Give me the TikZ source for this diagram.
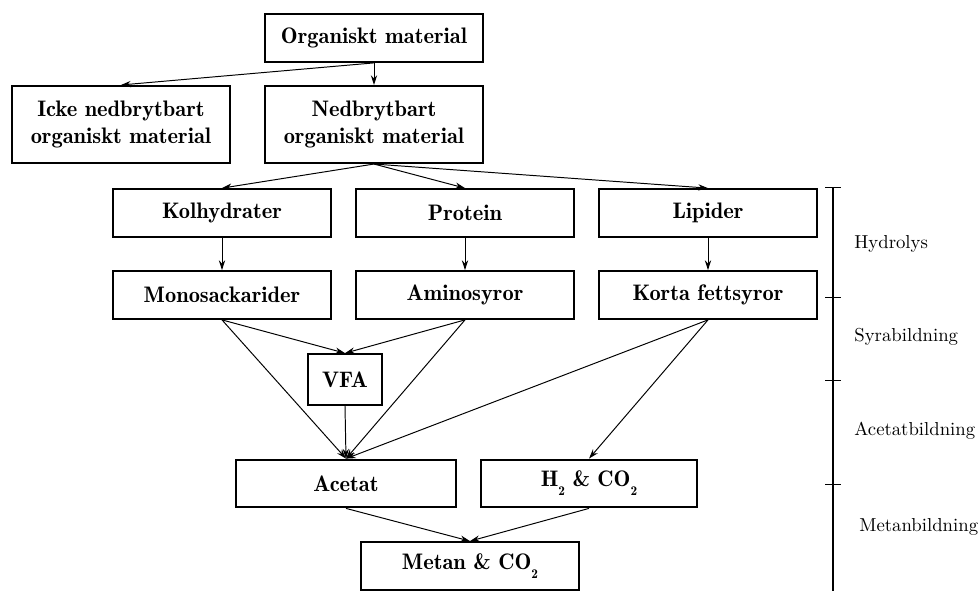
\documentclass[tikz,border=0pt]{standalone}
\usepackage{fontspec}
\usetikzlibrary{positioning,arrows.meta}
\newfontfamily\demifont{Latin Modern Roman Demi}
\newcommand\lowsub[1]{\raisebox{-4.6pt}{\fontsize{6.8}{7}\selectfont #1}}

\tikzset{
  stage/.style={draw, line width=1pt, minimum width=111.5pt, minimum height=24.5pt,
    align=center, inner sep=2pt, font=\demifont\fontsize{11.5}{13.5}\selectfont},
  tall/.style={stage, minimum height=39.5pt},
  flow/.style={-{Stealth[length=5pt,width=3.2pt]}, line width=0.5pt},
  phase/.style={anchor=west, inner sep=0pt, font=\fontsize{9.6}{11}\selectfont},
}

\begin{document}
\begin{tikzpicture}[x=0.018cm,y=-0.018cm]
    \useasboundingbox (0,0) rectangle (978,591);

    % Material
    \node[stage] (org) at (374,38) {Organiskt material};
    \node[tall] (icke) at (121,124.5) {Icke nedbrytbart\\organiskt material};
    \node[tall] (ned) at (374,124.5) {Nedbrytbart\\organiskt material};

    % Hydrolys
    \node[stage] (kol) at (222,213) {Kolhydrater};
    \node[stage] (prot) at (465,213) {Protein};
    \node[stage] (lip) at (708,213) {Lipider};

    \node[stage] (mono) at (222,295) {Monosackarider};
    \node[stage] (amino) at (465,295) {Aminosyror};
    \node[stage] (korta) at (708,295) {Korta fettsyror};

    % Syror och gaser
    \node[stage, minimum width=38pt, minimum height=26pt] (vfa) at (345,379.5) {VFA};
    \node[stage, minimum width=112.5pt] (acetat) at (346,483.5) {Acetat};
    \node[stage, minimum width=110.5pt] (gas) at (589,483.5) {H\lowsub{2} \& CO\lowsub{2}};
    \node[stage] (metan) at (470,566) {Metan \& CO\lowsub{2}};

    % Pilar
    \draw[flow] (org.south) -- (ned.north);
    \draw[flow] (org.south) -- (icke.north);
    \foreach \n in {kol,prot,lip}
        \draw[flow] (ned.south) -- (\n.north);
    \draw[flow] (kol) -- (mono);
    \draw[flow] (prot) -- (amino);
    \draw[flow] (lip) -- (korta);
    \draw[flow] (mono.south) -- (vfa.north);
    \draw[flow] (amino.south) -- (vfa.north);
    \foreach \n in {mono,vfa,amino,korta}
        \draw[flow] (\n.south) -- (acetat.north);
    \draw[flow] (korta.south) -- (gas.north);
    \draw[flow] (acetat.south) -- (metan.north);
    \draw[flow] (gas.south) -- (metan.north);

    % Faser
    \coordinate (top) at (833,187);
    \coordinate (bot) at (833,591);
    \draw[line width=1pt] (top) -- (bot);
    \foreach \y in {187,297,380,484}
        \draw[line width=0.5pt] (825,\y) -- (841,\y);
    \node[phase] (hyd) at (854,244) {Hydrolys};
    \node[phase] (syra) at (854,337) {Syrabildning};
    \node[phase] (acet) at (854,431) {Acetatbildning};
    \node[phase] (met) at (859,527) {Metanbildning};
\end{tikzpicture}
\end{document}
